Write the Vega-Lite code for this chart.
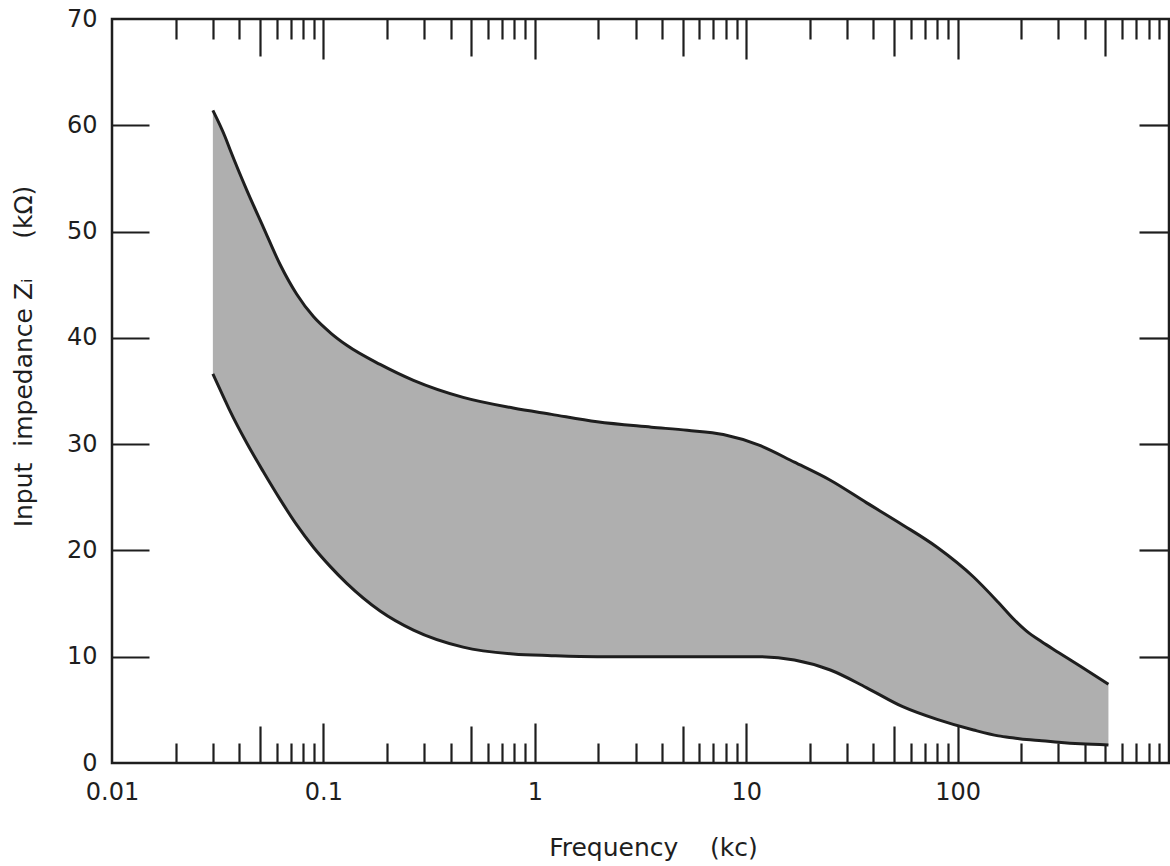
{
  "$schema": "https://vega.github.io/schema/vega-lite/v6.json",
  "width": 1057,
  "height": 744,
  "autosize": {"type": "none"},
  "padding": {"left": 112, "top": 19, "right": 1, "bottom": 103},
  "background": "white",
  "config": {
    "view": {"stroke": "#1e1e1e", "strokeWidth": 2.5},
    "axis": {
      "domain": false,
      "grid": false,
      "labelFont": "DejaVu Sans",
      "labelFontSize": 24,
      "labelColor": "#1e1e1e",
      "tickColor": "#1e1e1e",
      "tickWidth": 2.2,
      "titleFont": "DejaVu Sans",
      "titleFontWeight": "normal",
      "titleFontSize": 25,
      "titleColor": "#1e1e1e"
    }
  },
  "data": {
    "values": [
      {"f": 0.03, "hi": 61.4, "lo": 36.6},
      {"f": 0.0343, "hi": 58.9, "lo": 34.1},
      {"f": 0.0362, "hi": 57.7, "lo": 33.1},
      {"f": 0.0434, "hi": 53.9, "lo": 30.1},
      {"f": 0.052, "hi": 50.4, "lo": 27.4},
      {"f": 0.0624, "hi": 46.9, "lo": 24.8},
      {"f": 0.0748, "hi": 44.1, "lo": 22.4},
      {"f": 0.0897, "hi": 42.0, "lo": 20.3},
      {"f": 0.1076, "hi": 40.5, "lo": 18.5},
      {"f": 0.129, "hi": 39.3, "lo": 16.9},
      {"f": 0.1855, "hi": 37.5, "lo": 14.3},
      {"f": 0.2667, "hi": 36.0, "lo": 12.5},
      {"f": 0.458, "hi": 34.4, "lo": 10.9},
      {"f": 0.79, "hi": 33.4, "lo": 10.25},
      {"f": 1.2, "hi": 32.8, "lo": 10.1},
      {"f": 1.97, "hi": 32.1, "lo": 10.0},
      {"f": 3.56, "hi": 31.6, "lo": 10.0},
      {"f": 5.26, "hi": 31.3, "lo": 10.0},
      {"f": 7.79, "hi": 30.9, "lo": 10.0},
      {"f": 11.5, "hi": 29.9, "lo": 10.0},
      {"f": 16.9, "hi": 28.3, "lo": 9.7},
      {"f": 25, "hi": 26.6, "lo": 8.75},
      {"f": 37, "hi": 24.5, "lo": 7.1},
      {"f": 55, "hi": 22.4, "lo": 5.3},
      {"f": 80, "hi": 20.3, "lo": 4.1},
      {"f": 119, "hi": 17.5, "lo": 3.1},
      {"f": 156, "hi": 15.1, "lo": 2.55},
      {"f": 185, "hi": 13.5, "lo": 2.35},
      {"f": 212, "hi": 12.4, "lo": 2.2},
      {"f": 250, "hi": 11.4, "lo": 2.1},
      {"f": 300, "hi": 10.4, "lo": 1.95},
      {"f": 381, "hi": 9.1, "lo": 1.8},
      {"f": 517, "hi": 7.4, "lo": 1.7}
    ]
  },
  "layer": [
    {
      "mark": {"type": "area", "interpolate": "monotone", "color": "#afafaf"},
      "encoding": {
        "x": {
          "field": "f", "type": "quantitative",
          "scale": {"type": "log", "domain": [0.01, 1000]},
          "axis": {
            "orient": "bottom",
            "values": [0.01, 0.1, 1, 10, 100],
            "format": "~g",
            "ticks": false,
            "labelPadding": 17,
            "labelFlush": false,
            "title": "Frequency\u00a0\u00a0\u00a0\u00a0(kc)",
            "titleX": 541,
            "titleY": 92,
            "titleBaseline": "alphabetic"
          }
        },
        "y": {
          "field": "lo", "type": "quantitative",
          "scale": {"domain": [0, 70]},
          "axis": {
            "orient": "left",
            "values": [0, 10, 20, 30, 40, 50, 60, 70],
            "ticks": false,
            "labelPadding": 15,
            "title": "Input\u00a0\u00a0impedance\u00a0Zᵢ\u00a0\u00a0\u00a0\u00a0\u00a0(kΩ)",
            "titleX": -89,
            "titleY": 337,
            "titleAngle": -90,
            "titleBaseline": "middle",
            "titleAlign": "center"
          }
        },
        "y2": {"field": "hi"}
      }
    },
    {
      "mark": {"type": "line", "interpolate": "monotone", "color": "#1e1e1e", "strokeWidth": 3},
      "encoding": {
        "x": {
          "field": "f", "type": "quantitative",
          "scale": {"type": "log", "domain": [0.01, 1000]},
          "axis": {
            "orient": "top",
            "values": [0.02, 0.03, 0.04, 0.05, 0.06, 0.07, 0.08, 0.09, 0.1, 0.2, 0.3, 0.4, 0.5, 0.6, 0.7, 0.8, 0.9, 1, 2, 3, 4, 5, 6, 7, 8, 9, 10, 20, 30, 40, 50, 60, 70, 80, 90, 100, 200, 300, 400, 500, 600, 700, 800, 900],
            "labels": false,
            "tickSize": {"condition": [{"test": "indexof([0.1, 1, 10, 100], datum.value) >= 0", "value": -40}, {"test": "indexof([0.05, 0.5, 5, 50, 500], datum.value) >= 0", "value": -37}], "value": -20},
            "title": null
          }
        },
        "y": {
          "field": "hi", "type": "quantitative",
          "scale": {"domain": [0, 70]},
          "axis": {
            "orient": "right",
            "values": [10, 20, 30, 40, 50, 60],
            "labels": false,
            "tickSize": -30,
            "title": null
          }
        }
      }
    },
    {
      "mark": {"type": "line", "interpolate": "monotone", "color": "#1e1e1e", "strokeWidth": 3},
      "encoding": {
        "x": {
          "field": "f", "type": "quantitative",
          "scale": {"type": "log", "domain": [0.01, 1000]},
          "axis": {
            "orient": "bottom",
            "values": [0.02, 0.03, 0.04, 0.05, 0.06, 0.07, 0.08, 0.09, 0.1, 0.2, 0.3, 0.4, 0.5, 0.6, 0.7, 0.8, 0.9, 1, 2, 3, 4, 5, 6, 7, 8, 9, 10, 20, 30, 40, 50, 60, 70, 80, 90, 100, 200, 300, 400, 500, 600, 700, 800, 900],
            "labels": false,
            "tickSize": {"condition": [{"test": "indexof([0.1, 1, 10, 100], datum.value) >= 0", "value": -40}, {"test": "indexof([0.05, 0.5, 5, 50, 500], datum.value) >= 0", "value": -37}], "value": -20},
            "title": null
          }
        },
        "y": {
          "field": "lo", "type": "quantitative",
          "scale": {"domain": [0, 70]},
          "axis": {
            "orient": "left",
            "values": [10, 20, 30, 40, 50, 60],
            "labels": false,
            "tickSize": -37,
            "title": null
          }
        }
      }
    }
  ],
  "resolve": {"axis": {"x": "independent", "y": "independent"}}
}
